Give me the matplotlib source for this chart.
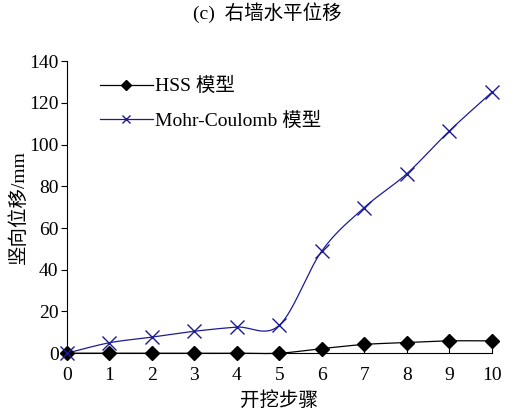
import numpy as np
import matplotlib
matplotlib.use("Agg")
import matplotlib.pyplot as plt
from matplotlib.lines import Line2D

plt.rcParams['font.family'] = ['Liberation Serif', 'Noto Sans CJK SC']

steps = [0, 1, 2, 3, 4, 5, 6, 7, 8, 9, 10]
hss = [0, 0, 0, 0, 0, 0, 2.2, 4.2, 5.1, 5.9, 5.9]
mohr = [0, 5.0, 7.7, 10.5, 12.5, 13.4, 49.0, 69.8, 86.0, 106.5, 125.0]
title = "(c)  右墙水平位移"
xlabel = "开挖步骤"
ylabel = "竖向位移/mm"
labels = ["HSS 模型", "Mohr-Coulomb 模型"]


def smooth(x, y, n=30):
    # Bezier smoothing (like spreadsheet "smoothed line") through the data points
    x = np.asarray(x, float)
    y = np.asarray(y, float)
    xs, ys = [], []
    for i in range(len(x) - 1):
        p0 = np.array([x[i], y[i]])
        p3 = np.array([x[i + 1], y[i + 1]])
        pm = np.array([x[max(i - 1, 0)], y[max(i - 1, 0)]])
        pp = np.array([x[min(i + 2, len(x) - 1)], y[min(i + 2, len(x) - 1)]])
        c1 = p0 + (p3 - pm) / 6.0
        c2 = p3 - (pp - p0) / 6.0
        t = np.linspace(0, 1, n)[:, None]
        pts = ((1 - t) ** 3) * p0 + 3 * ((1 - t) ** 2) * t * c1 + 3 * (1 - t) * t ** 2 * c2 + t ** 3 * p3
        xs.extend(pts[:, 0])
        ys.extend(pts[:, 1])
    return np.array(xs), np.array(ys)


fig = plt.figure(figsize=(5.31, 4.16), dpi=100)
ax = fig.add_axes([0.126, 0.151, 0.8, 0.702])

blue = '#1c1c96'
sx, sy = smooth(steps, hss)
ax.plot(sx, sy, color='black', lw=0.9, clip_on=False)
ax.plot(steps, hss, ls='none', marker='D', color='black', ms=7.5, clip_on=False, zorder=4)
mx, my = smooth(steps, mohr)
ax.plot(mx, my, color=blue, lw=0.9, clip_on=False)
ax.plot(steps, mohr, ls='none', marker='x', color=blue, ms=10, mew=1.0, clip_on=False, zorder=5)

h1 = Line2D([], [], color='black', lw=0.9, marker='D', ms=5)
h2 = Line2D([], [], color=blue, lw=0.9, marker='x', ms=6, mew=1.0)
ax.legend([h1, h2], labels, loc='upper left', bbox_to_anchor=(0.078, 0.945),
          frameon=False, fontsize=14, handlelength=2.7, handletextpad=0.15,
          labelspacing=0.85, borderaxespad=0, borderpad=0)

ax.set_xlim(0, 10)
ax.set_ylim(0, 140)
ax.set_xticks(range(0, 11))
ax.set_yticks(range(0, 141, 20))
ax.spines['top'].set_visible(False)
ax.spines['right'].set_visible(False)
ax.tick_params(axis='x', direction='in', length=4, labelsize=14, pad=10)
ax.tick_params(axis='y', direction='out', length=4, labelsize=14, pad=2)
ax.set_xlabel(xlabel, fontsize=14, labelpad=5)
ax.set_ylabel(ylabel, fontsize=14, labelpad=1)
fig.text(0.503, 0.97, title, ha='center', va='center', fontsize=14)

fig.savefig('out.png', dpi=100)
